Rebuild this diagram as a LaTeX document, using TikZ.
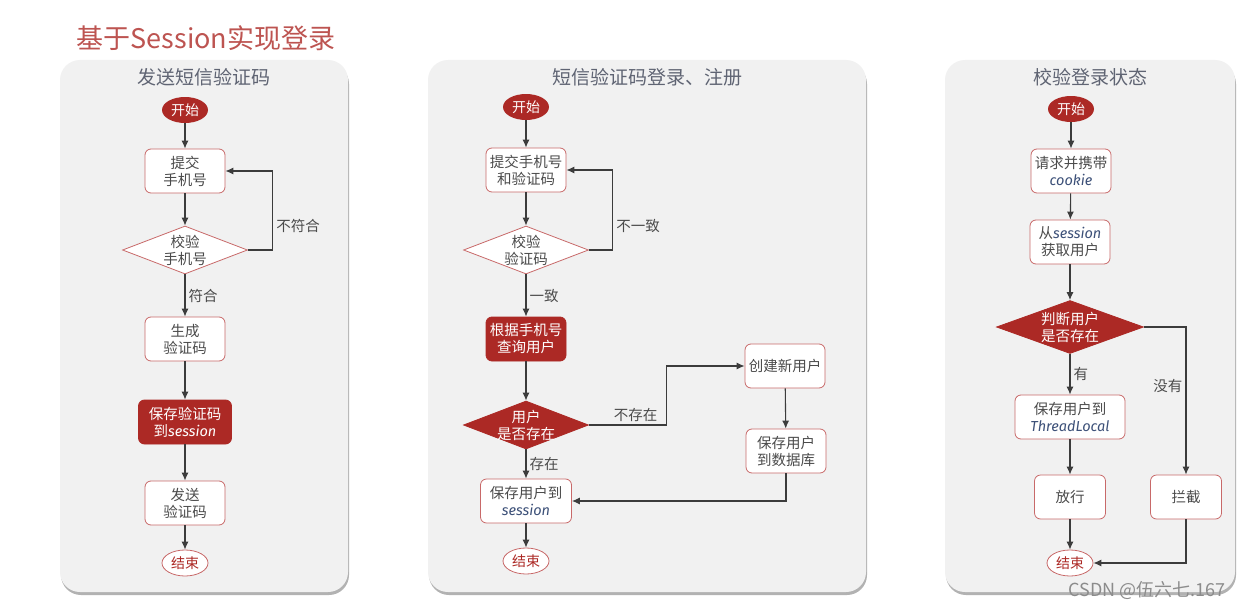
\documentclass[tikz,border=0pt]{standalone}
\usepackage{fontspec}
\setmainfont{Noto Sans CJK SC}
\newfontfamily\latinit{Fira Sans}
\usetikzlibrary{shapes.geometric,arrows.meta}
\definecolor{darkred}{RGB}{172,41,37}
\definecolor{boxred}{RGB}{200,105,105}
\definecolor{panelgray}{RGB}{241,241,241}
\definecolor{textgray}{RGB}{75,75,75}
\definecolor{titlegray}{RGB}{95,100,115}
\definecolor{linegray}{RGB}{60,60,60}
\definecolor{codeblue}{RGB}{60,80,120}
\newcommand{\code}[1]{{\latinit\itshape\color{codeblue}#1}}
\tikzset{
  panel/.style={fill=panelgray, rounded corners=20pt},
  panelshadow/.style={fill=black!30, rounded corners=20pt},
  startnode/.style={ellipse, fill=darkred, text=white, minimum width=46pt, minimum height=26pt, inner sep=0pt, font=\fontsize{14}{17}\selectfont},
  endnode/.style={ellipse, draw=boxred, thick, fill=white, text=darkred, minimum width=46pt, minimum height=26pt, inner sep=0pt, font=\fontsize{14}{17}\selectfont},
  box/.style={draw=boxred, thick, fill=white, rounded corners=6pt, minimum width=80pt, minimum height=44pt, inner sep=2pt, align=center, text=textgray, font=\fontsize{14.5}{17}\selectfont},
  redbox/.style={box, fill=darkred, draw=darkred, text=white},
  check/.style={diamond, aspect=2.6, draw=boxred, thick, fill=white, minimum width=125pt, minimum height=48pt, inner sep=-2pt, align=center, text=textgray, font=\fontsize{14.5}{17}\selectfont},
  redcheck/.style={check, fill=darkred, draw=darkred, text=white},
  arr/.style={-{Latex[length=8pt,width=7pt]}, draw=linegray, line width=1.1pt},
  lbl/.style={text=textgray, font=\fontsize{14.5}{17}\selectfont, inner sep=3pt},
  ptitle/.style={text=titlegray, font=\fontsize{19}{22}\selectfont}
}
\begin{document}
\begin{tikzpicture}[x=1pt, y=-1pt]
  \useasboundingbox (0,0) rectangle (1245,610);
  \fill[white] (0,0) rectangle (1245,610);
  \node[text=darkred!80, font=\fontsize{27}{30}\selectfont] (title) at (206,38) {基于Session实现登录};

  \fill[panelshadow] (61,64) rectangle (349,595);
  \fill[panel] (60,60) rectangle (348,592);
  \fill[panelshadow] (429,64) rectangle (867,595);
  \fill[panel] (428,60) rectangle (866,592);
  \fill[panelshadow] (946,64) rectangle (1236,595);
  \fill[panel] (945,60) rectangle (1235,592);

  \node[ptitle] (t1) at (204,77) {发送短信验证码};
  \node[ptitle] (t2) at (647,77) {短信验证码登录、注册};
  \node[ptitle] (t3) at (1090,77) {校验登录状态};

  \node[startnode] (s1) at (185,110) {开始};
  \node[box] (phone) at (185,171) {提交\\手机号};
  \node[check] (chk1) at (185,250) {校验\\手机号};
  \node[box] (gen) at (185,339) {生成\\验证码};
  \node[redbox, minimum width=93pt] (savecode) at (185,422) {保存验证码\\到{\latinit\itshape session}};
  \node[box] (send) at (185,503) {发送\\验证码};
  \node[endnode] (e1) at (185,563) {结束};
  \draw[arr] (s1) -- (phone);
  \draw[arr] (phone) -- (chk1);
  \draw[arr] (chk1.east) -- ++(25,0) |- node[lbl, pos=0.15, right]{不符合} (phone.east);
  \draw[arr] (chk1) -- node[lbl, right]{符合} (gen);
  \draw[arr] (gen) -- (savecode);
  \draw[arr] (savecode) -- (send);
  \draw[arr] (send) -- (e1);

  \node[startnode] (s2) at (526,107) {开始};
  \node[box] (submit) at (526,170) {提交手机号\\和验证码};
  \node[check] (chk2) at (526,250) {校验\\验证码};
  \node[redbox] (query) at (526,339) {根据手机号\\查询用户};
  \node[redcheck] (exist) at (526,425) {用户\\是否存在};
  \node[box] (newuser) at (785,366) {创建新用户};
  \node[box] (savedb) at (786,451) {保存用户\\到数据库};
  \node[box, minimum width=91pt] (savess) at (526,501) {保存用户到\\\code{session}};
  \node[endnode] (e2) at (526,561) {结束};
  \draw[arr] (s2) -- (submit);
  \draw[arr] (submit) -- (chk2);
  \draw[arr] (chk2.east) -- ++(24,0) |- node[lbl, pos=0.15, right]{不一致} (submit.east);
  \draw[arr] (chk2) -- node[lbl, right]{一致} (query);
  \draw[arr] (query) -- (exist);
  \draw[arr] (exist.east) -- node[lbl, above, pos=0.6]{不存在} ++(78,0) |- (newuser.west);
  \draw[arr] (newuser) -- (savedb);
  \draw[arr] (savedb.south) |- (savess.east);
  \draw[arr] (exist) -- node[lbl, right]{存在} (savess);
  \draw[arr] (savess) -- (e2);

  \node[startnode] (s3) at (1071,109) {开始};
  \node[box] (req) at (1071,171) {请求并携带\\\code{cookie}};
  \node[box] (getuser) at (1070,242) {从\code{session}\\获取用户};
  \node[redcheck, minimum width=147pt, minimum height=53pt] (judge) at (1070,327) {判断用户\\是否存在};
  \node[box, minimum width=110pt] (savetl) at (1070,417) {保存用户到\\\code{ThreadLocal}};
  \node[box, minimum width=71pt] (pass) at (1070,497) {放行};
  \node[box, minimum width=71pt] (block) at (1186,497) {拦截};
  \node[endnode] (e3) at (1070,563) {结束};
  \draw[arr] (s3) -- (req);
  \draw[arr] (req) -- (getuser);
  \draw[arr] (getuser) -- (judge);
  \draw[arr] (judge) -- node[lbl, right]{有} (savetl);
  \draw[arr] (judge.east) -| node[lbl, pos=0.7, left]{没有} (block.north);
  \draw[arr] (savetl) -- (pass);
  \draw[arr] (pass) -- (e3);
  \draw[arr] (block.south) |- (e3.east);

  \node[text=black!45, font=\fontsize{18}{20}\selectfont] (mark) at (1147,591) {CSDN @伍六七.167};
\end{tikzpicture}
\end{document}
